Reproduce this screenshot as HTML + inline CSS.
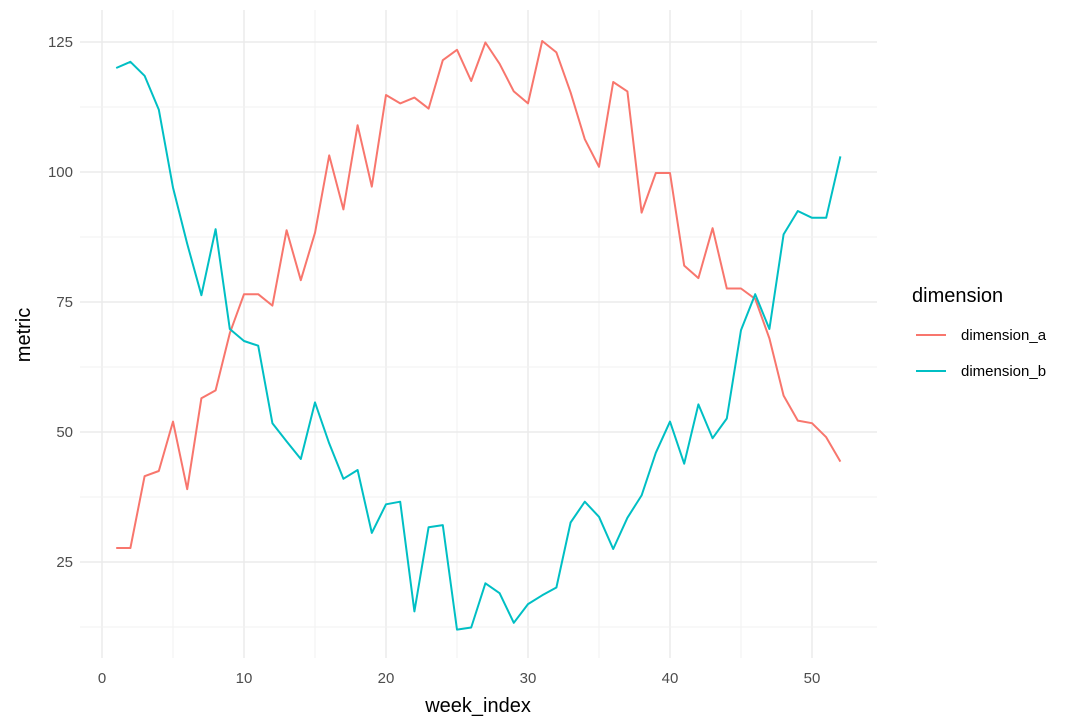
<!DOCTYPE html>
<html><head><meta charset="utf-8"><style>
body{margin:0;background:#fff;}
svg{display:block;font-family:"Liberation Sans",Arial,sans-serif;}
</style></head><body>
<svg id="chart" width="1085" height="728" viewBox="0 0 1085 728">
<g id="grid"></g>
<g id="series"></g>
<g id="axes"></g>
<text x="478" y="712" font-size="20" text-anchor="middle" fill="#000">week_index</text>
<text transform="translate(30,335) rotate(-90)" font-size="20" text-anchor="middle" fill="#000">metric</text>
<g>
<text x="912" y="302" font-size="20" fill="#000">dimension</text>
<g>
<line x1="916" x2="946" y1="335" y2="335" stroke="#F8766D" stroke-width="2"/>
<text x="961" y="340" font-size="15" fill="#000">dimension_a</text></g>
<g>
<line x1="916" x2="946" y1="371" y2="371" stroke="#00BFC4" stroke-width="2"/>
<text x="961" y="376" font-size="15" fill="#000">dimension_b</text></g>
</g>
</svg>
<script>
const weeks = Array.from({length:52},(_,i)=>i+1);
const dimensionA = [27.7,27.7,41.5,42.5,52,39,56.5,58,69,76.5,76.5,74.3,88.8,79.2,88.3,103.2,92.8,109,97.2,114.8,113.2,114.3,112.2,121.5,123.5,117.5,124.9,120.8,115.5,113.2,125.2,123,115.3,106.3,101,117.3,115.5,92.2,99.8,99.8,82,79.6,89.2,77.6,77.6,75.6,68,57,52.2,51.7,49,44.3];
const dimensionB = [120,121.2,118.5,112,97,86.2,76.3,89,69.8,67.5,66.6,51.7,48.2,44.8,55.7,47.8,41,42.7,30.6,36.1,36.6,15.5,31.7,32.1,12,12.4,20.9,19,13.3,16.9,18.6,20.1,32.6,36.6,33.7,27.5,33.5,37.8,46,52,43.9,55.3,48.8,52.6,69.6,76.5,69.8,88,92.5,91.2,91.2,103];
const xTicks = [0,10,20,30,40,50];
const yTicks = [25,50,75,100,125];
const NS="http://www.w3.org/2000/svg";
const L=80,R=877,T=10,B=658;
const xs=v=>102+(v-0)*14.2;
const ys=v=>562-(v-25)*5.2;
function mk(tag,attrs,parent){const e=document.createElementNS(NS,tag);for(const k in attrs)e.setAttribute(k,attrs[k]);parent.appendChild(e);return e;}
const grid=document.getElementById('grid'),axes=document.getElementById('axes'),series=document.getElementById('series');
for(let i=0;i<xTicks.length;i++){
  const v=xTicks[i];
  if(xs(v+5)<R){
    const m=mk('line',{x1:xs(v+5),x2:xs(v+5),y1:T,y2:B,stroke:'#f2f2f2','stroke-width':1},grid);
    
    
  }
  const g=mk('line',{x1:xs(v),x2:xs(v),y1:T,y2:B,stroke:'#ebebeb','stroke-width':1.5},grid);
  
  
  const t=mk('text',{x:xs(v),y:683,'font-size':15,fill:'#4d4d4d','text-anchor':'middle'},axes);
  t.textContent=v;
  
  
}
const minorY=[12.5].concat(yTicks.map(v=>v+12.5));
minorY.forEach(v=>{const y=ys(v);if(y<T||y>B)return;
  const m=mk('line',{x1:L,x2:R,y1:y,y2:y,stroke:'#f2f2f2','stroke-width':1},grid);
  
  
});
yTicks.forEach(v=>{
  const g=mk('line',{x1:L,x2:R,y1:ys(v),y2:ys(v),stroke:'#ebebeb','stroke-width':1.5},grid);
  
  
  const t=mk('text',{x:73,y:ys(v)+5,'font-size':15,fill:'#4d4d4d','text-anchor':'end'},axes);
  t.textContent=v;
  
  
});
function line(data,color,name){
  const d=data.map((v,i)=>(i?'L':'M')+xs(weeks[i]).toFixed(1)+','+ys(v).toFixed(1)).join('');
  const p=mk('path',{d:d,fill:'none',stroke:color,'stroke-width':2,'stroke-linejoin':'round'},series);
  
  
}
line(dimensionA,'#F8766D','line-dimension-a');
line(dimensionB,'#00BFC4','line-dimension-b');
</script>
</body></html>
